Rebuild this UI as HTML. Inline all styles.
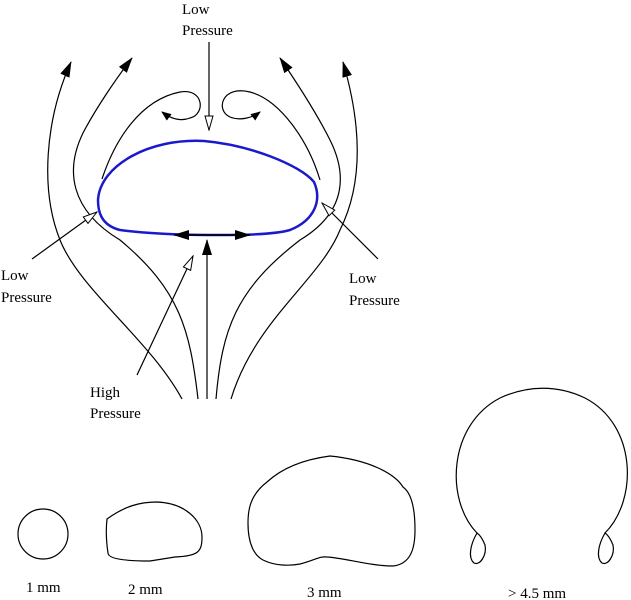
<!DOCTYPE html>
<html><head><style>body{margin:0;background:#fff}svg{display:block}text{font-family:"Liberation Serif","DejaVu Serif","Times New Roman",serif;font-size:15px;fill:#000}</style></head>
<body>
<svg width="631" height="600" viewBox="0 0 631 600" xmlns="http://www.w3.org/2000/svg">
<defs>
<marker id="b" markerWidth="10" markerHeight="8" refX="9" refY="4" orient="auto" markerUnits="userSpaceOnUse"><path d="M0,0 L10,4 L0,8 Z" fill="#000"/></marker>
<marker id="bb" markerWidth="16" markerHeight="10" refX="15" refY="5" orient="auto" markerUnits="userSpaceOnUse"><path d="M0,0 L16,5 L0,10 Z" fill="#000"/></marker>
<marker id="h" markerWidth="16" markerHeight="10" refX="15" refY="5" orient="auto" markerUnits="userSpaceOnUse"><path d="M1,1 L15,5 L1,9 Z" fill="#fff" stroke="#000" stroke-width="1"/></marker>
</defs>
<g fill="none" stroke="#000" stroke-width="1.2">
<path d="M182,399 C150,340 80,290 60,240 C40,190 45,120 71,62" marker-end="url(#bb)"/>
<path d="M198,399 C190,330 180,290 120,240 C70,210 65,170 83,133 C95,110 115,80 132,58" marker-end="url(#bb)"/>
<path d="M207,399 L207,240" marker-end="url(#bb)"/>
<path d="M216,399 C222,330 235,290 300,240 C350,210 345,170 330,140 C315,110 295,80 280,58" marker-end="url(#bb)"/>
<path d="M231,399 C255,320 320,280 340,230 C365,180 360,120 343,62" marker-end="url(#bb)"/>
<path d="M102,179 C115,140 140,100 180,92 C205,88 205,115 190,118 C180,122 170,118 162,112" marker-end="url(#b)"/>
<path d="M320,180 C308,140 280,100 250,92 C222,85 215,110 230,117 C240,121 252,118 260,112" marker-end="url(#b)"/>
<path d="M209,42 L209,130" marker-end="url(#h)"/>
<path d="M32,259 L97,212" marker-end="url(#h)"/>
<path d="M378,259 L322,203" marker-end="url(#h)"/>
<path d="M137,375 L193,256" marker-end="url(#h)"/>
</g>
<path d="M98,200 C100,165 150,138 204,141 C250,145 300,165 314,182 C322,200 315,220 290,230 C270,236 220,235 207,235 C180,235 140,233 120,230 C100,225 98,210 98,200 Z" fill="none" stroke="#1a1acc" stroke-width="2.5"/>
<path d="M207,235 L174,235" stroke="#000" stroke-width="1.5" marker-end="url(#bb)"/>
<path d="M207,235 L250,235" stroke="#000" stroke-width="1.5" marker-end="url(#bb)"/>
<g fill="none" stroke="#000" stroke-width="1.2">
<circle cx="43" cy="534" r="25"/>
<path d="M107,519 C125,506 140,502 157,502 C185,503 202,520 202,537 C202,552 198,556 175,557 L150,561 C120,561 108,558 108,553 C106,540 106,528 107,519 Z"/>
<path d="M330,456 C300,460 280,470 267,482 C250,495 248,510 248,523 C248,545 255,556 263,560 C275,566 290,566 300,564 C315,560 320,556 327,557 C345,558 370,566 393,566 C410,564 415,550 415,530 C415,505 410,492 403,487 C395,474 370,460 330,456 Z"/>
<path d="M477,533 C445,500 448,425 500,398 C528,385 558,385 585,398 C637,425 638,500 605,533"/>
<path d="M477,533 C470,545 468,558 474,563 C480,566 487,555 485,545 C483,540 480,535 477,533 Z"/>
<path d="M605,533 C598,545 596,558 602,563 C608,566 615,555 613,545 C611,540 608,535 605,533 Z"/>
</g>
<g font-family="Liberation Serif, DejaVu Serif, serif">
<text x="182" y="14">Low</text>
<text x="182" y="35">Pressure</text>
<text x="1" y="280">Low</text>
<text x="1" y="302">Pressure</text>
<text x="349" y="283">Low</text>
<text x="349" y="305">Pressure</text>
<text x="90" y="397">High</text>
<text x="90" y="418">Pressure</text>
<text x="26" y="592">1 mm</text>
<text x="128" y="594">2 mm</text>
<text x="307" y="597">3 mm</text>
<text x="508" y="598">&gt; 4.5 mm</text>
</g>
</svg>
</body></html>
